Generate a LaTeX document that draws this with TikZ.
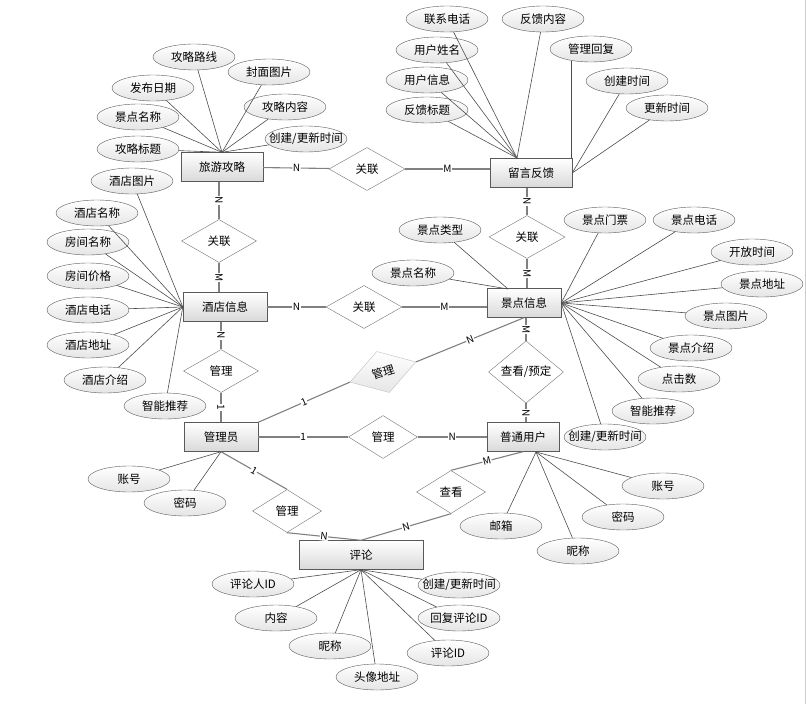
\documentclass[tikz,border=0pt]{standalone}
\usepackage{fontspec}
\newfontfamily\cjk{Noto Sans CJK SC}
\usetikzlibrary{shapes.geometric}

\begin{document}
\begin{tikzpicture}
	[x=1pt, y=-1pt,
	font=\cjk\fontsize{11.5}{13}\selectfont,
	entity/.style ={rectangle, draw=black!65, top color=white, bottom color=black!15, minimum width=82pt, minimum height=29pt},
	attr/.style ={ellipse, draw=black!65, top color=white, bottom color=black!10, minimum width=82pt, minimum height=26pt, inner xsep=-8pt, inner ysep=1pt},
	rel/.style ={diamond, draw=black!55, fill=white, minimum width=75pt, minimum height=43pt, inner sep=0pt},
	line/.style ={draw=black!50, line width=1.1pt},
	aline/.style ={draw=black!70, line width=0.6pt},
	card/.style ={fill=white, inner sep=0.5pt, sloped, font=\cjk\fontsize{10}{11}\selectfont}]
	\useasboundingbox (0, 0) rectangle (806, 704);
	\draw[black!20] (805, 0) -- (805, 704);
	% entities
	\draw (222, 167) node[entity] (guide) {旅游攻略};
	\draw (531, 173) node[entity] (note) {留言反馈};
	\draw (225, 307) node[entity, minimum width=84pt] (hotel) {酒店信息};
	\draw (524, 303) node[entity, minimum width=74pt] (spot) {景点信息};
	\draw (221, 437) node[entity, minimum width=74pt] (admin) {管理员};
	\draw (523, 437) node[entity, minimum width=72pt] (user) {普通用户};
	\draw (361, 555) node[entity, minimum width=124pt] (review) {评论};
	% relations
	\draw (367, 169) node[rel, minimum width=76pt] (r1) {关联};
	\draw (219, 241) node[rel] (r2) {关联};
	\draw (527, 237) node[rel, minimum width=76pt] (r3) {关联};
	\draw (364, 307) node[rel, minimum width=76pt] (r4) {关联};
	\draw (221, 371) node[rel] (r5) {管理};
	\draw (383, 372) node[rel, minimum width=69pt, rotate=17, draw=black!25, top color=white, bottom color=black!10] (r6) {管理};
	\draw (383, 437) node[rel, minimum width=69pt] (r7) {管理};
	\draw (526, 372) node[rel] (r8) {查看/预定};
	\draw (451, 492) node[rel, minimum width=69pt] (r9) {查看};
	\draw (287, 511) node[rel, minimum width=69pt] (r10) {管理};
	% guide attributes
	\draw (194, 57) node[attr] (g1) {攻略路线};
	\draw (269, 72) node[attr] (g2) {封面图片};
	\draw (153, 88) node[attr] (g3) {发布日期};
	\draw (285, 107) node[attr] (g4) {攻略内容};
	\draw (138, 117) node[attr] (g5) {景点名称};
	\draw (306, 139) node[attr] (g6) {创建/更新时间};
	\draw (138, 149) node[attr] (g7) {攻略标题};
	% note attributes
	\draw (447, 19) node[attr] (n1) {联系电话};
	\draw (543, 19) node[attr] (n2) {反馈内容};
	\draw (437, 50) node[attr] (n3) {用户姓名};
	\draw (591, 49) node[attr] (n4) {管理回复};
	\draw (427, 80) node[attr] (n5) {用户信息};
	\draw (627, 81) node[attr] (n6) {创建时间};
	\draw (427, 110) node[attr] (n7) {反馈标题};
	\draw (667, 108) node[attr] (n8) {更新时间};
	% hotel attributes
	\draw (132, 181) node[attr] (h1) {酒店图片};
	\draw (97, 213) node[attr] (h2) {酒店名称};
	\draw (88, 242) node[attr] (h3) {房间名称};
	\draw (88, 276) node[attr] (h4) {房间价格};
	\draw (88, 310) node[attr] (h5) {酒店电话};
	\draw (88, 345) node[attr] (h6) {酒店地址};
	\draw (105, 380) node[attr] (h7) {酒店介绍};
	\draw (165, 406) node[attr] (h8) {智能推荐};
	% spot attributes
	\draw (440, 230) node[attr] (s1) {景点类型};
	\draw (413, 273) node[attr] (s2) {景点名称};
	\draw (605, 220) node[attr] (s3) {景点门票};
	\draw (694, 220) node[attr] (s4) {景点电话};
	\draw (752, 252) node[attr] (s5) {开放时间};
	\draw (762, 284) node[attr] (s6) {景点地址};
	\draw (726, 316) node[attr] (s7) {景点图片};
	\draw (691, 348) node[attr] (s8) {景点介绍};
	\draw (679, 379) node[attr] (s9) {点击数};
	\draw (653, 411) node[attr] (s10) {智能推荐};
	\draw (605, 437) node[attr] (s11) {创建/更新时间};
	% admin and user attributes
	\draw (129, 479) node[attr] (a1) {账号};
	\draw (185, 503) node[attr] (a2) {密码};
	\draw (663, 486) node[attr] (u1) {账号};
	\draw (623, 517) node[attr] (u2) {密码};
	\draw (501, 526) node[attr] (u3) {邮箱};
	\draw (578, 551) node[attr] (u4) {昵称};
	% review attributes
	\draw (253, 584) node[attr] (c1) {评论人ID};
	\draw (459, 585) node[attr] (c2) {创建/更新时间};
	\draw (276, 618) node[attr] (c3) {内容};
	\draw (459, 618) node[attr] (c4) {回复评论ID};
	\draw (330, 646) node[attr] (c5) {昵称};
	\draw (448, 653) node[attr] (c6) {评论ID};
	\draw (377, 677) node[attr] (c7) {头像地址};
	\coordinate (nt) at (517, 158);
	\coordinate (st) at (508, 289);
	\coordinate (ut) at (536, 452);
	% relation lines
	\draw[line] (guide) -- node[card] {N} (r1);
	\draw[line] (r1.east) -- node[card] {M} (r1.east -| note.west);
	\draw[line] (r2.north |- guide.south) -- node[card] {N} (r2.north);
	\draw[line] (r2.south) -- node[card] {M} (r2.south |- hotel.north);
	\draw[line] (r3.north |- note.south) -- node[card] {N} (r3.north);
	\draw[line] (r3.south) -- node[card] {M} (r3.south |- spot.north);
	\draw[line] (hotel.east) -- node[card] {N} (r4.west);
	\draw[line] (r4.east) -- node[card] {M} (r4.east -| spot.west);
	\draw[line] (r5.north |- hotel.south) -- node[card] {N} (r5.north);
	\draw[line] (r5.south) -- node[card] {1} (r5.south |- admin.north);
	\draw[line] (admin.north east) -- node[card] {1} (r6.west);
	\draw[line] (r6.east) -- node[card] {N} (spot.south);
	\draw[line] (r8.north |- spot.south) -- node[card] {M} (r8.north);
	\draw[line] (r8.south) -- node[card] {N} (r8.south |- user.north);
	\draw[line] (admin) -- node[card] {1} (r7);
	\draw[line] (r7) -- node[card] {N} (user);
	\draw[line] (user.south) -- node[card] {M} (r9.north);
	\draw[line] (r9.south) -- node[card] {N} (review.north);
	\draw[line] (admin.south) -- node[card] {1} (r10.north);
	\draw[line] (r10.south) -- node[card] {N} (review.north);
	% attribute lines
	\draw[aline] (g1) -- (guide.north);
	\draw[aline] (g2) -- (guide.north);
	\draw[aline] (g3) -- (guide.north);
	\draw[aline] (g4) -- (guide.north);
	\draw[aline] (g5) -- (guide.north);
	\draw[aline] (g6) -- (guide.north);
	\draw[aline] (g7) -- (guide.north);
	\draw[aline] (n1) -- (nt);
	\draw[aline] (n2) -- (nt);
	\draw[aline] (n3) -- (nt);
	\draw[aline] (n5) -- (nt);
	\draw[aline] (n7) -- (nt);
	\draw[aline] (n4.210) -- (n4.210 |- note.north);
	\draw[aline] (n6) -- (note.east);
	\draw[aline] (n8) -- (note.east);
	\draw[aline] (h1) -- (hotel.west);
	\draw[aline] (h2) -- (hotel.west);
	\draw[aline] (h3) -- (hotel.west);
	\draw[aline] (h4) -- (hotel.west);
	\draw[aline] (h5) -- (hotel.west);
	\draw[aline] (h6) -- (hotel.west);
	\draw[aline] (h7) -- (hotel.west);
	\draw[aline] (h8) -- (hotel.west);
	\draw[aline] (s1) -- (st);
	\draw[aline] (s2) -- (st);
	\draw[aline] (s3) -- (spot.east);
	\draw[aline] (s4) -- (spot.east);
	\draw[aline] (s5) -- (spot.east);
	\draw[aline] (s6) -- (spot.east);
	\draw[aline] (s7) -- (spot.east);
	\draw[aline] (s8) -- (spot.east);
	\draw[aline] (s9) -- (spot.east);
	\draw[aline] (s10) -- (spot.east);
	\draw[aline] (s11) -- (spot.east);
	\draw[aline] (a1) -- (admin.south);
	\draw[aline] (a2) -- (admin.south);
	\draw[aline] (u1) -- (ut);
	\draw[aline] (u2) -- (ut);
	\draw[aline] (u3) -- (ut);
	\draw[aline] (u4) -- (ut);
	\draw[aline] (c1) -- (review.south);
	\draw[aline] (c2) -- (review.south);
	\draw[aline] (c3) -- (review.south);
	\draw[aline] (c4) -- (review.south);
	\draw[aline] (c5) -- (review.south);
	\draw[aline] (c6) -- (review.south);
	\draw[aline] (c7) -- (review.south);
\end{tikzpicture}
\end{document}
